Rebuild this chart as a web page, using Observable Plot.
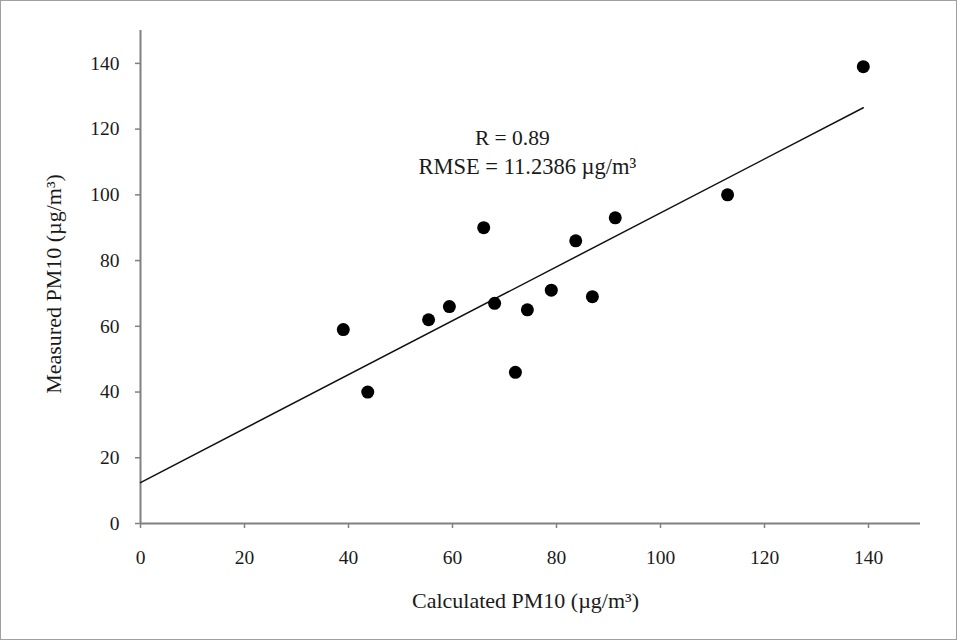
<!DOCTYPE html>
<html>
<head>
<meta charset="utf-8">
<script src="https://cdn.jsdelivr.net/npm/d3@7"></script>
<script src="https://cdn.jsdelivr.net/npm/@observablehq/plot@0.6"></script>
<style>
  html, body { margin: 0; padding: 0; background: #fff; }
  #chart { width: 955px; height: 638px; border: 1px solid #a0a0a0; overflow: hidden; }
  #chart svg { display: block; }
</style>
</head>
<body>
<div id="chart"></div>
<script>
// Data
const calculated = [39, 43.7, 55.4, 59.4, 66, 68.1, 72.1, 74.4, 79, 83.7, 86.9, 91.3, 112.9, 139];
const measured   = [59, 40, 62, 66, 90, 67, 46, 65, 71, 86, 69, 93, 100, 139];
const xTicks = [0, 20, 40, 60, 80, 100, 120, 140];
const yTicks = [0, 20, 40, 60, 80, 100, 120, 140];
const annotations = ["R = 0.89", "RMSE = 11.2386 µg/m³"];

const points = calculated.map((x, i) => ({x, y: measured[i]}));

// least-squares fit of the points, drawn from x = 0 to the largest x
const mx = d3.mean(calculated), my = d3.mean(measured);
const slope = d3.sum(points, p => (p.x - mx) * (p.y - my)) / d3.sum(points, p => (p.x - mx) ** 2);
const intercept = my - slope * mx;
const fitLine = [0, d3.max(calculated)].map(x => ({x, y: intercept + slope * x}));

const font = "'Liberation Serif', 'Times New Roman', serif";

const chart = Plot.plot({
  width: 955,
  height: 638,
  marginLeft: 139,
  marginRight: 36,
  marginTop: 29,
  marginBottom: 116,
  style: {fontFamily: font, fontSize: "19.5px", color: "#222", background: "#fff"},
  x: {domain: [0, 150]},
  y: {domain: [0, 150]},
  marks: [
    Plot.axisX({ticks: xTicks, tickSize: 5, tickPadding: 22, stroke: "#808080", strokeWidth: 1.5,
      fontSize: 19.5, fill: "#1a1a1a", label: null}),
    Plot.axisY({ticks: yTicks, tickSize: 5, tickPadding: 16, stroke: "#808080", strokeWidth: 1.5,
      fontSize: 19.5, fill: "#1a1a1a", label: null}),
    Plot.ruleY([0], {stroke: "#808080", strokeWidth: 2}),
    Plot.ruleX([0], {stroke: "#808080", strokeWidth: 2}),
    Plot.line(fitLine, {x: "x", y: "y", stroke: "#111", strokeWidth: 1.5}),
    Plot.dot(points, {x: "x", y: "y", r: 6.5, fill: "#000", stroke: "none"}),
    Plot.text([annotations[0]], {x: 71.5, y: 117.4, text: d => d, fontSize: 21.5, fill: "#1a1a1a", fontFamily: font}),
    Plot.text([annotations[1]], {x: 74.4, y: 108.6, text: d => d, fontSize: 22.5, fill: "#1a1a1a", fontFamily: font}),
    Plot.text(["Calculated PM10 (µg/m³)"], {frameAnchor: "bottom", dy: 84, dx: -5, text: d => d, fontSize: 22, fill: "#1a1a1a", fontFamily: font}),
    Plot.text(["Measured PM10 (µg/m³)"], {frameAnchor: "left", dx: -87, dy: 7, rotate: -90, textAnchor: "middle", text: d => d, fontSize: 22, fill: "#1a1a1a", fontFamily: font})
  ]
});
document.getElementById("chart").appendChild(chart);
</script>
</body>
</html>
